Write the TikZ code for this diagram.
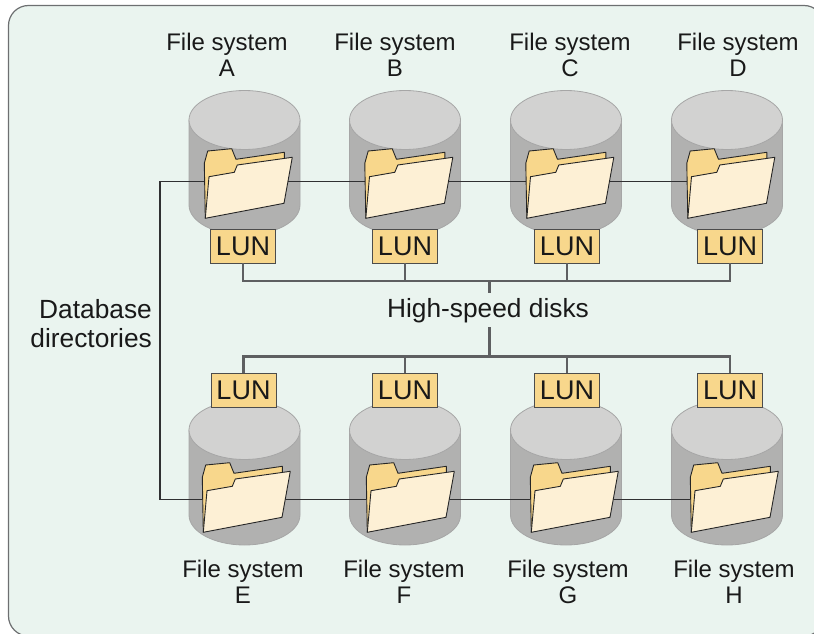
\documentclass[tikz,border=0pt]{standalone}
\usepackage{fontspec}
\setmainfont{Liberation Sans}
\definecolor{panel}{HTML}{EAF4EF}
\definecolor{panelline}{HTML}{6D6F71}
\definecolor{cylbody}{HTML}{B1B1B0}
\definecolor{cyltop}{HTML}{D2D2D1}
\definecolor{cylline}{HTML}{A6A6A6}
\definecolor{tabc}{HTML}{F8D78C}
\definecolor{frontc}{HTML}{FDF0D5}
\definecolor{busc}{HTML}{5E5F61}
\definecolor{dirc}{HTML}{303032}
\tikzset{
  x=1pt,y=-1pt,
  every node/.style={text=black!90,inner sep=0pt},
  lunbox/.style={draw=black!70,line width=.8pt,fill=tabc,minimum width=65pt,minimum height=34pt,font=\fontsize{27pt}{30pt}\selectfont},
  caption/.style={align=center,font=\fontsize{24pt}{26.5pt}\selectfont},
  bigtext/.style={font=\fontsize{26.3pt}{29pt}\selectfont},
  bus/.style={draw=busc,line width=2.8pt},
  dirline/.style={draw=dirc,line width=1.1pt},
  folderline/.style={draw=black!85,line width=.9pt,line join=round},
  pics/cyl/.style={code={
    \path[fill=cylbody,draw=cylline,line width=.8pt] (-55.5,0) -- (-55.5,85) .. controls (-55.5,101.5) and (-30.7,115) .. (0,115) .. controls (30.7,115) and (55.5,101.5) .. (55.5,85) -- (55.5,0) -- cycle;
    \path[fill=cyltop,draw=cylline,line width=.8pt] (0,0) ellipse[x radius=55.5,y radius=29.5];
  }},
  pics/folder/.style={code={
    \path[fill=tabc,folderline] (-39.2,98.3) -- (-40.2,43.3) -- (-36.8,31) -- (-12.8,28.7) -- (-8.5,39.3) -- (39.8,32.3) -- (39.8,40) -- (0,60) -- cycle;
    \path[fill=frontc,folderline] (-39.2,98.3) -- (-35.5,56.7) -- (-10.2,52.3) -- (-7.2,45) -- (47.8,37.3) -- (39.5,83.3) -- cycle;
  }}
}
\begin{document}
\begin{tikzpicture}
\useasboundingbox (0,0) rectangle (814,634);
\begin{scope}
\clip (0,0) rectangle (814,634);
\draw[panelline,fill=panel,line width=1.2pt,rounded corners=20pt] (8.5,5.5) rectangle (824,636);
\end{scope}
% disks
\path (244.5,120) pic {cyl};
\path (405,120) pic {cyl};
\path (566,120) pic {cyl};
\path (727,120) pic {cyl};
\path (244.5,430) pic {cyl};
\path (405,430) pic {cyl};
\path (566,430) pic {cyl};
\path (727,430) pic {cyl};
% directory lines
\coordinate (topend) at (692,181.5);
\coordinate (botend) at (695,499.5);
\coordinate (dirtop) at (160,181.5);
\coordinate (dirbot) at (160,499.5);
\draw[dirline] (topend) -- (dirtop) -- (dirbot) -- (botend);
% folders
\path (244.5,120) pic {folder};
\path (405,120) pic {folder};
\path (566,120) pic {folder};
\path (727,120) pic {folder};
\path (242.5,434) pic {folder};
\path (406.5,434) pic {folder};
\path (570.5,434) pic {folder};
\path (730.5,434) pic {folder};
% LUN boxes
\node[lunbox] (la) at (243,246) {LUN};
\node[lunbox] (lb) at (405,246) {LUN};
\node[lunbox] (lc) at (567,246) {LUN};
\node[lunbox] (ld) at (730,246) {LUN};
\node[lunbox] (le) at (243.5,390.5) {LUN};
\node[lunbox] (lf) at (405,390.5) {LUN};
\node[lunbox] (lg) at (567,390.5) {LUN};
\node[lunbox] (lh) at (730,390.5) {LUN};
% buses
\node[bigtext] (speed) at (488,311) {High-speed disks};
\coordinate (bustop) at (489.5,281);
\coordinate (busbot) at (489.5,356.5);
\coordinate (stubtop) at (489.5,293);
\coordinate (stubbot) at (489.5,327);
\draw[bus] (la.south) |- (bustop) -| (ld.south);
\draw[bus] (lb.south) -- (lb.south |- bustop);
\draw[bus] (lc.south) -- (lc.south |- bustop);
\draw[bus] (bustop) -- (stubtop);
\draw[bus] (le.north) |- (busbot) -| (lh.north);
\draw[bus] (lf.north) -- (lf.north |- busbot);
\draw[bus] (lg.north) -- (lg.north |- busbot);
\draw[bus] (busbot) -- (stubbot);
% labels
\node[caption] (ta) at (227,55) {File system\\A};
\node[caption] (tb) at (395,55) {File system\\B};
\node[caption] (tc) at (570,55) {File system\\C};
\node[caption] (td) at (738,55) {File system\\D};
\node[caption] (te) at (243,582) {File system\\E};
\node[caption] (tf) at (404,582) {File system\\F};
\node[caption] (tg) at (568,582) {File system\\G};
\node[caption] (th) at (734,582) {File system\\H};
\node[bigtext,align=right,anchor=east] (db) at (152,323.5) {Database\\directories};
\end{tikzpicture}
\end{document}
